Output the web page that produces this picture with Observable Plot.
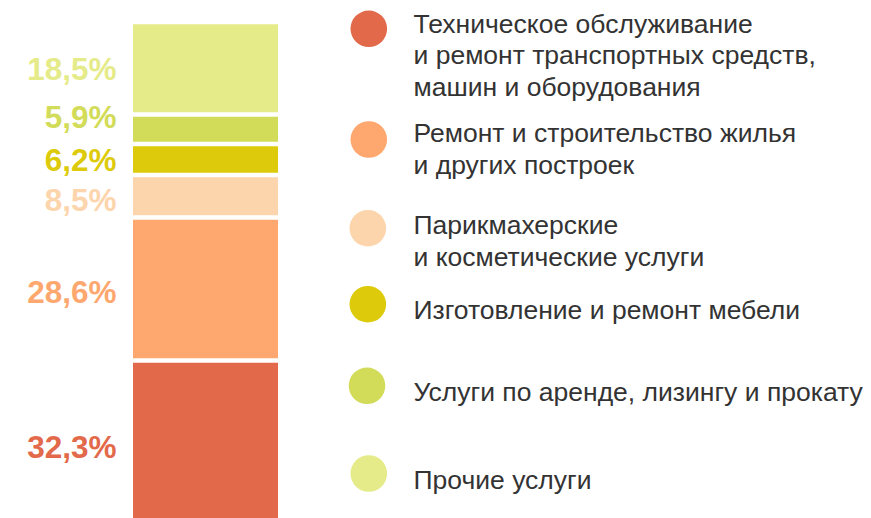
<!DOCTYPE html>
<html><head><meta charset="utf-8">
<script src="https://cdn.jsdelivr.net/npm/d3@7"></script>
<script src="https://cdn.jsdelivr.net/npm/@observablehq/plot@0.6"></script>
<style>html,body{margin:0;padding:0;background:#fff} svg{display:block}</style>
</head><body><div id="chart"></div>
<script>
// Data (bottom of the bar to top)
const categories = [
  "Техническое обслуживание\nи ремонт транспортных средств,\nмашин и оборудования",
  "Ремонт и строительство жилья\nи других построек",
  "Парикмахерские\nи косметические услуги",
  "Изготовление и ремонт мебели",
  "Услуги по аренде, лизингу и прокату",
  "Прочие услуги"
];
const values = [32.3, 28.6, 8.5, 6.2, 5.9, 18.5];
const colors = ["#E2694A", "#FEA870", "#FDD5AC", "#DDCB0B", "#D2DC58", "#E5EB88"];

// Layout (pixels)
const labelShiftPx = [6, 3, 4, 1, -12, 1];
const legendCircleX = [368.3, 368.3, 367.3, 367.3, 366.5, 368.3];
const legendCircleY = [28.3, 139, 227.7, 303.7, 385.3, 473];
const legendTextTop = [10, 119.3, 211.6, 296, 378.3, 466];

let cum = 0;
const rows = values.map((v, i) => {
  const y0 = cum; cum += v;
  return {category: categories[i], value: v, color: colors[i], y0, y1: cum, i};
});
const fmt = v => v.toFixed(1).replace(".", ",") + "%";
const font = "'Liberation Sans', Arial, sans-serif";

const legendMarks = rows.flatMap((d, i) => [
  Plot.dot([d], {frameAnchor: "top-left", dx: legendCircleX[i], dy: legendCircleY[i], r: 18.3, fill: "color", stroke: null}),
  Plot.text([d], {frameAnchor: "top-left", dx: 413, dy: legendTextTop[i], text: "category",
    textAnchor: "start", lineAnchor: "top", lineHeight: 1.19, fontSize: 26.5, fill: "#333333"})
]);

const chart = Plot.plot({
  width: 871, height: 518,
  margin: 0,
  style: {fontFamily: font, background: "#fff"},
  x: {domain: ["bar"], range: [133, 278], padding: 0, axis: null},
  y: {domain: [0, 100], range: [522, 22], axis: null},
  color: {type: "identity"},
  marks: [
    Plot.barY(rows, {x: () => "bar", y: "value", fill: "color", insetTop: 2.25, insetBottom: 2.25}),
    Plot.text(rows, {
      y: d => (d.y0 + d.y1) / 2 - labelShiftPx[d.i] / 5,
      text: d => fmt(d.value),
      frameAnchor: "left", dx: 116, textAnchor: "end",
      fill: "color", fontWeight: "bold", fontSize: 31.5
    }),
    ...legendMarks
  ]
});
document.getElementById("chart").append(chart);
</script>
</body></html>
